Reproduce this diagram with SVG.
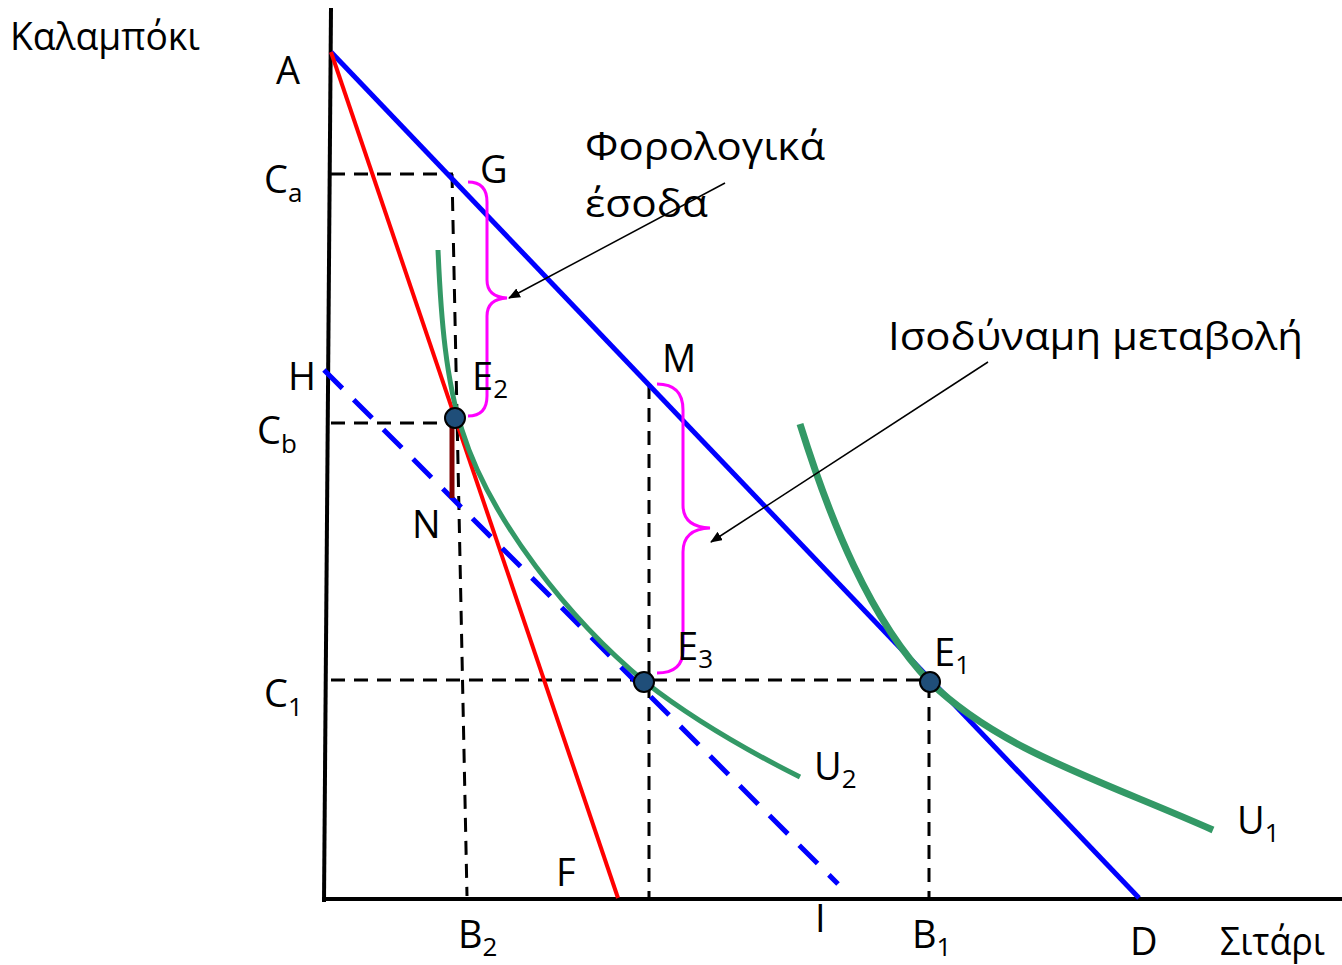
<svg xmlns="http://www.w3.org/2000/svg" width="1342" height="965" viewBox="0 0 1342 965">
<style>
text{font-family:"Open Sans","Liberation Sans",sans-serif;font-size:38px;fill:#000}
.sub{font-size:26px}
.axis{stroke:#000;stroke-width:4;fill:none}
.dash{stroke:#000;stroke-width:3;stroke-dasharray:14 9;fill:none}
.brace{stroke:#ff00ff;stroke-width:3;fill:none}
.pt{fill:#1f4e79;stroke:#000;stroke-width:2}
.arr{stroke:#000;stroke-width:1.5;fill:none;marker-end:url(#ah)}
</style>
<defs>
<marker id="ah" markerWidth="12" markerHeight="10" refX="11" refY="5" orient="auto" markerUnits="userSpaceOnUse">
<path d="M0,0 L12,5 L0,10 Z" fill="#000"/>
</marker>
</defs>
<rect width="1342" height="965" fill="#fff"/>
<g id="connectors">
<line class="axis" x1="331" y1="8" x2="324" y2="902"/>
<line class="axis" x1="322" y1="899" x2="1342" y2="899"/>
<line class="dash" x1="331" y1="174" x2="453" y2="174"/>
<line class="dash" x1="452" y1="174" x2="467" y2="896"/>
<line class="dash" x1="331" y1="423" x2="452" y2="423"/>
<line class="dash" x1="649" y1="385" x2="649" y2="898"/>
<line class="dash" x1="331" y1="680" x2="930" y2="680"/>
<line class="dash" x1="929" y1="684" x2="929" y2="898"/>
<line x1="331" y1="52" x2="1139" y2="898" stroke="#0000ff" stroke-width="5"/>
<line x1="331" y1="52" x2="618" y2="898" stroke="#ff0000" stroke-width="4"/>
<line x1="324" y1="370" x2="838" y2="884" stroke="#0000ff" stroke-width="5" stroke-dasharray="26 16"/>
<path d="M438,250 C441,320 446,380 462,430 C490,520 570,620 645,682 C700,725 760,757 800,777" stroke="#339966" stroke-width="5" fill="none"/>
<path d="M800,424 C830,520 870,620 930,682 C1000,750 1100,780 1213,830" stroke="#339966" stroke-width="7" fill="none"/>
<line x1="452" y1="424" x2="452" y2="498" stroke="#7f0000" stroke-width="5"/>
<path class="brace" d="M468,182 Q487,182 487,202 L487,280 Q487,297 507,298 Q487,299 487,316 L487,396 Q487,416 468,416"/>
<path class="brace" d="M657,384 Q683,384 683,410 L683,505 Q683,527 710,528 Q683,529 683,552 L683,650 Q683,673 657,673"/>
<line class="arr" x1="725" y1="183" x2="509" y2="298"/>
<line class="arr" x1="988" y1="362" x2="711" y2="542"/>
</g>
<g id="E2"><circle class="pt" cx="455" cy="418" r="10"/></g>
<g id="E3"><circle class="pt" cx="644" cy="682" r="10"/></g>
<g id="E1"><circle class="pt" cx="930" cy="682" r="10"/></g>
<g id="labels">
<text x="10" y="50" textLength="190" lengthAdjust="spacingAndGlyphs">Καλαμπόκι</text>
<text x="276" y="84">A</text>
<text x="480" y="183">G</text>
<text x="264" y="193">C<tspan class="sub" dy="9">a</tspan></text>
<text x="585" y="160" textLength="240" lengthAdjust="spacingAndGlyphs">Φορολογικά</text>
<text x="585" y="217" textLength="123" lengthAdjust="spacingAndGlyphs">έσοδα</text>
<text x="662" y="372">M</text>
<text x="888" y="350" textLength="415" lengthAdjust="spacingAndGlyphs">Ισοδύναμη μεταβολή</text>
<text x="288" y="390">H</text>
<text x="472" y="390">E<tspan class="sub" dy="8">2</tspan></text>
<text x="257" y="444">C<tspan class="sub" dy="9">b</tspan></text>
<text x="412" y="538">N</text>
<text x="677" y="660">E<tspan class="sub" dy="8">3</tspan></text>
<text x="934" y="666">E<tspan class="sub" dy="8">1</tspan></text>
<text x="264" y="707">C<tspan class="sub" dy="9">1</tspan></text>
<text x="814" y="780">U<tspan class="sub" dy="8">2</tspan></text>
<text x="1237" y="834">U<tspan class="sub" dy="8">1</tspan></text>
<text x="556" y="886">F</text>
<text x="458" y="948">B<tspan class="sub" dy="8">2</tspan></text>
<text x="815" y="932">I</text>
<text x="912" y="948">B<tspan class="sub" dy="8">1</tspan></text>
<text x="1130" y="955">D</text>
<text x="1220" y="955" textLength="105" lengthAdjust="spacingAndGlyphs">Σιτάρι</text>
</g>
</svg>
